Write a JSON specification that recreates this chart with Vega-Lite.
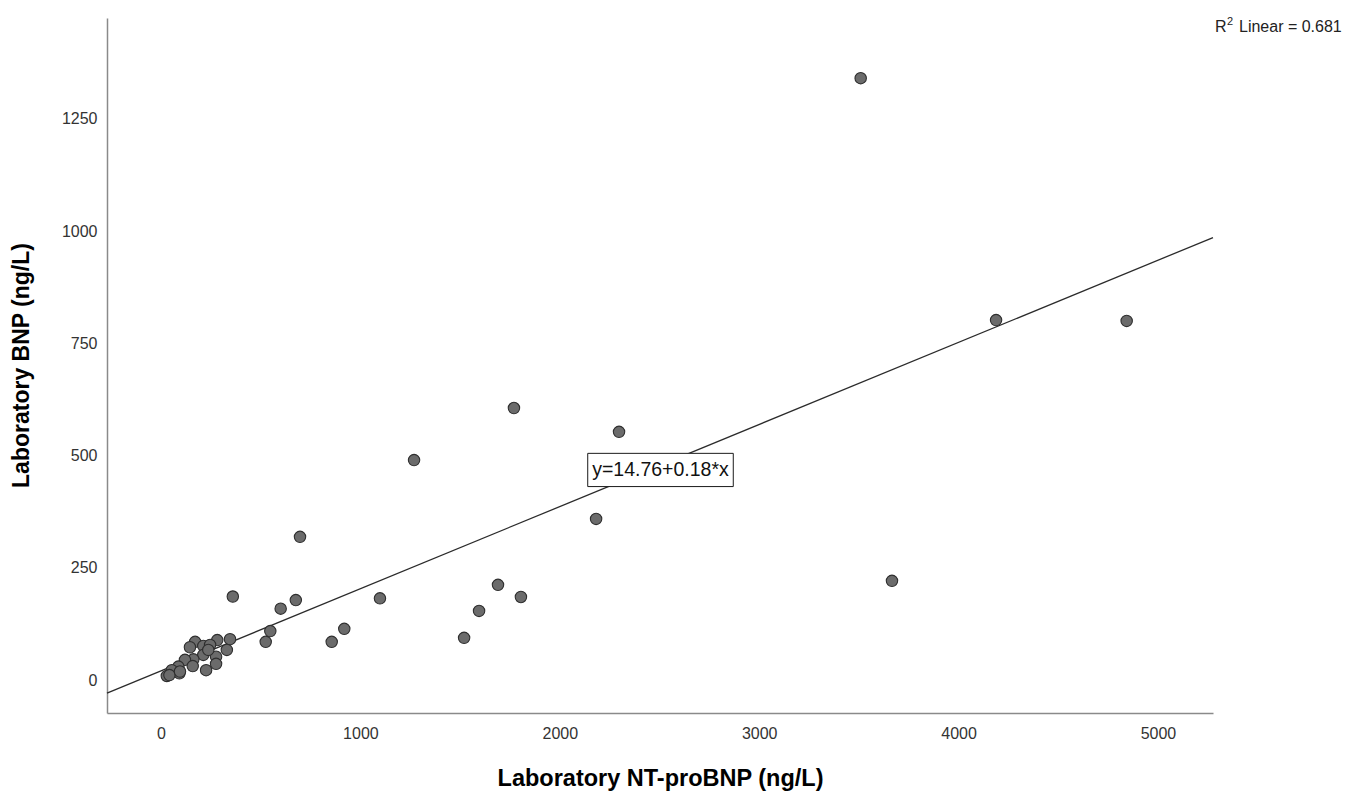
{
  "$schema": "https://vega.github.io/schema/vega-lite/v6.json",
  "width": 1106,
  "height": 695,
  "autosize": "none",
  "padding": {"left": 107, "top": 18, "right": 139, "bottom": 80},
  "background": "white",
  "config": {
    "view": {"stroke": null},
    "font": "Liberation Sans"
  },
  "data": {
    "values": [
      {"ntprobnp": 3509, "bnp": 1341},
      {"ntprobnp": 4188, "bnp": 802},
      {"ntprobnp": 4843, "bnp": 800},
      {"ntprobnp": 2297, "bnp": 553},
      {"ntprobnp": 1770, "bnp": 606},
      {"ntprobnp": 1269, "bnp": 490},
      {"ntprobnp": 2182, "bnp": 359},
      {"ntprobnp": 3666, "bnp": 221},
      {"ntprobnp": 1690, "bnp": 212},
      {"ntprobnp": 1805, "bnp": 185},
      {"ntprobnp": 1595, "bnp": 154},
      {"ntprobnp": 1520, "bnp": 94},
      {"ntprobnp": 1098, "bnp": 182},
      {"ntprobnp": 919, "bnp": 114},
      {"ntprobnp": 856, "bnp": 85},
      {"ntprobnp": 697, "bnp": 319},
      {"ntprobnp": 676, "bnp": 178},
      {"ntprobnp": 600, "bnp": 159},
      {"ntprobnp": 548, "bnp": 109},
      {"ntprobnp": 525, "bnp": 85},
      {"ntprobnp": 360, "bnp": 186},
      {"ntprobnp": 346, "bnp": 91},
      {"ntprobnp": 330, "bnp": 67},
      {"ntprobnp": 282, "bnp": 89},
      {"ntprobnp": 171, "bnp": 85},
      {"ntprobnp": 145, "bnp": 73},
      {"ntprobnp": 212, "bnp": 76},
      {"ntprobnp": 276, "bnp": 52},
      {"ntprobnp": 212, "bnp": 56},
      {"ntprobnp": 162, "bnp": 46},
      {"ntprobnp": 120, "bnp": 45},
      {"ntprobnp": 276, "bnp": 36},
      {"ntprobnp": 226, "bnp": 22},
      {"ntprobnp": 159, "bnp": 31},
      {"ntprobnp": 87, "bnp": 30},
      {"ntprobnp": 54, "bnp": 22},
      {"ntprobnp": 92, "bnp": 15},
      {"ntprobnp": 29, "bnp": 9},
      {"ntprobnp": 246, "bnp": 78},
      {"ntprobnp": 237, "bnp": 67},
      {"ntprobnp": 42, "bnp": 11},
      {"ntprobnp": 95, "bnp": 19}
    ]
  },
  "layer": [
    {
      "transform": [
        {"regression": "bnp", "on": "ntprobnp", "extent": [-271, 5276]}
      ],
      "mark": {"type": "line", "color": "#2b2b2b", "strokeWidth": 1.3},
      "encoding": {
        "x": {
          "field": "ntprobnp",
          "type": "quantitative",
          "scale": {"domain": [-271, 5276], "nice": false, "zero": false},
          "axis": {
            "values": [0, 1000, 2000, 3000, 4000, 5000],
            "format": "d",
            "grid": false,
            "ticks": false,
            "tickSize": 0,
            "domainColor": "#8a8a8a",
            "domainWidth": 1.5,
            "labelFont": "Liberation Sans",
            "labelFontSize": 16,
            "labelColor": "#333333",
            "labelPadding": 12,
            "title": "Laboratory NT-proBNP (ng/L)",
            "titleFont": "Liberation Sans",
            "titleFontSize": 23.5,
            "titleFontWeight": "bold",
            "titleColor": "#000000",
            "titleBaseline": "alphabetic",
            "titleY": 72
          }
        },
        "y": {
          "field": "bnp",
          "type": "quantitative",
          "scale": {"domain": [-73.5, 1475], "nice": false, "zero": false},
          "axis": {
            "values": [0, 250, 500, 750, 1000, 1250],
            "format": "d",
            "grid": false,
            "ticks": false,
            "tickSize": 0,
            "domainColor": "#8a8a8a",
            "domainWidth": 1.5,
            "labelFont": "Liberation Sans",
            "labelFontSize": 16,
            "labelColor": "#333333",
            "labelPadding": 10,
            "title": "Laboratory BNP (ng/L)",
            "titleFont": "Liberation Sans",
            "titleFontSize": 23,
            "titleFontWeight": "bold",
            "titleColor": "#000000",
            "titleBaseline": "alphabetic",
            "titleX": -79,
            "titleY": 347
          }
        }
      }
    },
    {
      "mark": {
        "type": "circle",
        "size": 130,
        "opacity": 1,
        "fill": "#6b6b6b",
        "stroke": "#2e2e2e",
        "strokeWidth": 1.1
      },
      "encoding": {
        "x": {"field": "ntprobnp", "type": "quantitative"},
        "y": {"field": "bnp", "type": "quantitative"}
      }
    },
    {
      "data": {"values": [{}]},
      "mark": {"type": "rect", "fill": "white", "stroke": "#1a1a1a", "strokeWidth": 1},
      "encoding": {
        "x": {"datum": 2140, "type": "quantitative"},
        "x2": {"datum": 2870},
        "y": {"datum": 505, "type": "quantitative"},
        "y2": {"datum": 431}
      }
    },
    {
      "data": {"values": [{}]},
      "mark": {
        "type": "text",
        "text": "y=14.76+0.18*x",
        "font": "Liberation Sans",
        "fontSize": 19.5,
        "fill": "#111111",
        "align": "center",
        "baseline": "middle"
      },
      "encoding": {
        "x": {"datum": 2505, "type": "quantitative"},
        "y": {"datum": 468, "type": "quantitative"}
      }
    },
    {
      "data": {"values": [{}]},
      "mark": {
        "type": "text",
        "text": "R",
        "font": "Liberation Sans",
        "fontSize": 16,
        "fill": "#222222",
        "align": "left",
        "baseline": "middle",
        "clip": false
      },
      "encoding": {
        "x": {"datum": 5286, "type": "quantitative"},
        "y": {"datum": 1455, "type": "quantitative"}
      }
    },
    {
      "data": {"values": [{}]},
      "mark": {
        "type": "text",
        "text": "2",
        "font": "Liberation Sans",
        "fontSize": 11,
        "fill": "#222222",
        "align": "left",
        "baseline": "middle",
        "dx": 12,
        "dy": -5,
        "clip": false
      },
      "encoding": {
        "x": {"datum": 5286, "type": "quantitative"},
        "y": {"datum": 1455, "type": "quantitative"}
      }
    },
    {
      "data": {"values": [{}]},
      "mark": {
        "type": "text",
        "text": "Linear = 0.681",
        "font": "Liberation Sans",
        "fontSize": 16,
        "fill": "#222222",
        "align": "left",
        "baseline": "middle",
        "dx": 24,
        "clip": false
      },
      "encoding": {
        "x": {"datum": 5286, "type": "quantitative"},
        "y": {"datum": 1455, "type": "quantitative"}
      }
    }
  ]
}
